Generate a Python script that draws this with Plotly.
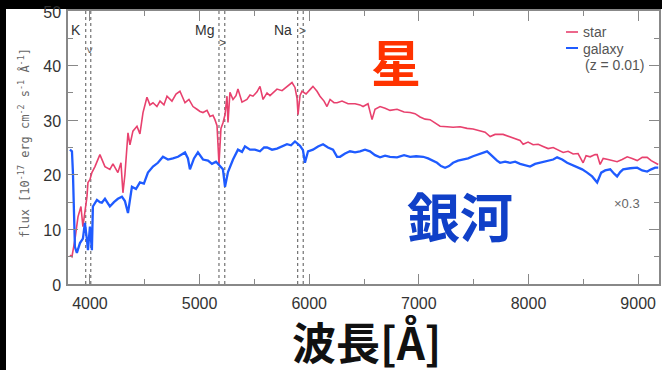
import plotly.graph_objects as go

# ---------------- data ----------------
star_wl = [3818, 3836, 3863, 3891, 3918, 3936, 3973, 3982, 4000, 4018, 4046, 4091, 4137, 4182, 4210,
           4255, 4283, 4301, 4319, 4338, 4347, 4365, 4392, 4429, 4456, 4484, 4520, 4547, 4575, 4611,
           4639, 4675, 4703, 4748, 4785, 4821, 4849, 4867, 4903, 4940, 4976, 5004, 5031, 5068, 5095,
           5122, 5140, 5159, 5177, 5195, 5213, 5232, 5250, 5259, 5277, 5305, 5332, 5350, 5387, 5432,
           5460, 5487, 5524, 5551, 5579, 5615, 5642, 5679, 5706, 5752, 5797, 5843, 5870, 5889, 5898,
           5916, 5934, 5971, 6007, 6034, 6071, 6098, 6135, 6162, 6190, 6226, 6254, 6299, 6354, 6418,
           6463, 6491, 6536, 6573, 6600, 6646, 6692, 6737, 6801, 6865, 6920, 6965, 7011, 7057, 7102,
           7148, 7193, 7257, 7312, 7376, 7440, 7494, 7558, 7604, 7650, 7695, 7768, 7832, 7896, 7923,
           7951, 7996, 8042, 8088, 8133, 8179, 8225, 8261, 8316, 8361, 8407, 8452, 8498, 8525, 8562,
           8607, 8626, 8653, 8681, 8726, 8772, 8808, 8854, 8900, 8945, 8991, 9037, 9082, 9119, 9155,
           9183]
star_flux = [5.3, 5.0, 8.1, 12.3, 14.2, 10.5, 16.0, 18.6, 19.1, 20.4, 21.5, 23.7, 21.5, 21.0, 22.0,
             20.4, 22.2, 16.7, 20.0, 26.5, 27.7, 25.5, 28.0, 28.9, 27.5, 31.4, 34.2, 32.8, 33.2, 32.5,
             33.5, 32.8, 34.4, 33.5, 34.8, 35.3, 34.0, 33.2, 33.8, 32.5, 32.0, 31.6, 31.4, 31.8, 30.7,
             30.9, 30.1, 29.0, 22.0, 28.5, 29.5, 31.0, 34.4, 29.6, 35.1, 33.8, 34.5, 35.7, 33.3, 33.8,
             34.6, 34.4, 35.2, 36.2, 33.8, 35.0, 34.5, 35.3, 35.7, 35.4, 36.2, 36.9, 36.0, 34.0, 31.0,
             34.5, 35.3, 34.8, 35.6, 36.2, 35.3, 34.4, 33.5, 32.5, 33.8, 33.2, 33.2, 33.5, 33.0, 33.0,
             32.8, 32.5, 33.0, 30.1, 32.0, 32.5, 32.2, 31.8, 32.0, 31.5, 31.4, 31.2, 30.6, 30.2, 30.1,
             29.5, 28.9, 28.8, 28.7, 28.8, 28.5, 28.4, 28.0, 27.8, 27.0, 27.4, 27.4, 27.0, 26.5, 26.3,
             25.6, 26.0, 25.5, 25.6, 25.2, 24.8, 25.0, 24.6, 24.1, 24.3, 23.8, 23.9, 22.2, 23.5, 23.3,
             23.7, 23.7, 21.9, 23.0, 22.8, 22.5, 22.4, 22.8, 23.3, 23.0, 22.6, 23.2, 23.2, 22.6, 22.2,
             21.9]

galaxy_wl = [3818, 3836, 3845, 3863, 3881, 3909, 3936, 3954, 3973, 3982, 4000, 4018, 4027, 4064, 4091,
             4109, 4137, 4164, 4182, 4219, 4255, 4292, 4319, 4347, 4383, 4420, 4456, 4492, 4529, 4575,
             4620, 4666, 4712, 4757, 4803, 4867, 4894, 4912, 4949, 4985, 5031, 5077, 5113, 5150, 5186,
             5213, 5232, 5259, 5305, 5350, 5387, 5414, 5460, 5505, 5551, 5588, 5615, 5661, 5706, 5752,
             5797, 5834, 5870, 5916, 5943, 5961, 5989, 6034, 6080, 6126, 6171, 6217, 6254, 6281, 6327,
             6372, 6418, 6463, 6509, 6554, 6600, 6646, 6692, 6737, 6801, 6865, 6920, 6975, 7039, 7084,
             7130, 7166, 7202, 7239, 7275, 7312, 7357, 7403, 7449, 7494, 7531, 7576, 7622, 7650, 7677,
             7713, 7741, 7786, 7832, 7878, 7923, 7969, 8014, 8060, 8105, 8133, 8179, 8225, 8261, 8307,
             8352, 8398, 8444, 8489, 8535, 8580, 8626, 8663, 8699, 8745, 8781, 8808, 8836, 8863, 8927,
             8991, 9037, 9082, 9119, 9155, 9183]
galaxy_flux = [24.6, 24.3, 20.4, 6.8, 5.7, 7.5, 8.3, 11.2, 8.1, 6.2, 10.5, 6.2, 14.2, 15.4, 15.0,
               14.9, 15.6, 14.6, 14.2, 15.0, 15.6, 16.0, 15.2, 13.0, 17.8, 17.4, 18.6, 18.4, 20.4, 21.5,
               22.2, 23.3, 22.8, 23.0, 23.3, 24.1, 23.0, 21.0, 23.0, 24.1, 22.8, 22.6, 22.0, 22.4, 21.5,
               21.0, 17.8, 20.5, 22.8, 24.6, 24.2, 25.2, 24.6, 24.6, 24.3, 25.0, 25.0, 24.6, 24.8, 25.2,
               25.6, 25.4, 26.1, 25.3, 24.5, 22.2, 24.3, 24.6, 25.2, 25.6, 25.0, 24.6, 23.3, 23.3, 23.9,
               24.3, 24.1, 24.3, 24.6, 24.3, 23.6, 23.2, 23.5, 23.3, 23.2, 23.6, 23.3, 23.4, 23.3, 23.0,
               22.6, 22.2, 21.6, 21.3, 21.6, 22.2, 22.6, 22.8, 23.0, 23.4, 23.7, 24.0, 24.3, 23.8, 23.2,
               22.6, 22.2, 22.4, 22.2, 22.4, 22.0, 21.8, 21.5, 22.0, 22.2, 22.4, 22.6, 22.8, 23.2, 22.8,
               22.2, 21.8, 21.5, 21.0, 20.4, 19.7, 18.6, 20.4, 20.8, 21.0, 20.2, 19.7, 20.5, 21.0, 21.2,
               21.3, 20.8, 20.6, 21.0, 21.3, 21.3]

line_positions = [3962, 4008, 5177, 5230, 5895, 5945]
line_names = ["K", "Mg", "Na"]
line_label_wl = [3870, 5049, 5761]
line_label_flux = [46.5, 46.5, 46.5]

x_tickvals = [4000, 5000, 6000, 7000, 8000, 9000]
y_tickvals = [0, 10, 20, 30, 40, 50]

STAR_C = "#E8416E"
GAL_C = "#1F5BFF"

# The page has a black frame: 6 px on the left, 9 px on top (body background).
OFF_X, OFF_Y = 6, 9
FIG_W, FIG_H = 662 - OFF_X, 370 - OFF_Y
# plot area in page pixels
L, T, W, H = 68, 11, 591, 273
def px(x):
    return (x - L) / W
def py(y):
    return 1 - (y - T) / H

fig = go.Figure()

fig.add_trace(go.Scatter(x=star_wl, y=star_flux, mode="lines", name="star",
                         line=dict(color=STAR_C, width=1.6), showlegend=False))
fig.add_trace(go.Scatter(x=galaxy_wl, y=galaxy_flux, mode="lines", name="galaxy",
                         line=dict(color=GAL_C, width=2.3), showlegend=False))

shapes = []
for lp in line_positions:
    shapes.append(dict(type="line", xref="x", yref="y", x0=lp, x1=lp, y0=0, y1=50,
                       line=dict(color="#555555", width=1, dash="dot"), layer="below"))
# legend samples
shapes.append(dict(type="line", xref="paper", yref="paper", x0=px(566), x1=px(578),
                   y0=py(32), y1=py(32), line=dict(color=STAR_C, width=1.6)))
shapes.append(dict(type="line", xref="paper", yref="paper", x0=px(566), x1=px(578),
                   y0=py(48), y1=py(48), line=dict(color=GAL_C, width=2)))

annotations = []
def note(x, y, text, size, color, family="Liberation Sans", xanchor="center", angle=0, xref="paper", yref="paper"):
    annotations.append(dict(x=x, y=y, xref=xref, yref=yref, text=text, showarrow=False,
                            xanchor=xanchor, yanchor="middle", textangle=angle,
                            font=dict(family=family, size=size, color=color)))

for name, wl, fl in zip(line_names, line_label_wl, line_label_flux):
    note(wl, fl, name, 14, "#333333", xref="x", yref="y")
# small direction marks
note(px(90), py(50), "&gt;", 11, "#555555", angle=90)
note(px(222), py(43), "&gt;", 12, "#555555")
note(px(302), py(31), "&gt;", 12, "#555555")
# legend texts
note(px(581), py(32), "star", 14, "#555555", xanchor="left")
note(px(581), py(49), "galaxy", 14, "#555555", xanchor="left")
note(px(583), py(65), "(z = 0.01)", 14, "#555555", xanchor="left")
note(px(627), py(203), "×0.3", 13, "#666666")
# y axis title
note(px(24), py(143), "flux [10<sup>-17</sup> erg cm<sup>-2</sup> s<sup>-1</sup> Å<sup>-1</sup>]",
     12, "#666666", family="DejaVu Sans Mono", angle=-90)
# big Japanese labels
note(px(396), py(60), "<b>星</b>", 50, "#FF3300", family="Noto Sans CJK JP")
note(px(460), py(215), "<b>銀河</b>", 53, "#1040C8", family="Noto Sans CJK JP")
note(px(366), py(341), "<b>波長[Å]</b>", 44, "#111111", family="Noto Sans CJK JP")

axis_common = dict(showline=True, linecolor="#888888", linewidth=1.5, mirror="ticks",
                   ticks="inside", tickcolor="#888888", tickwidth=1.2, ticklen=10,
                   showgrid=False, zeroline=False, ticklabeloverflow="allow", automargin=False,
                   tickfont=dict(family="Liberation Sans", size=16, color="#333333"))

fig.update_layout(
    width=FIG_W, height=FIG_H,
    margin=dict(l=L - OFF_X, r=FIG_W - (L - OFF_X) - W, t=T - OFF_Y, b=FIG_H - (T - OFF_Y) - H,
                autoexpand=False),
    paper_bgcolor="white", plot_bgcolor="white",
    xaxis=dict(range=[3800, 9190], tickvals=x_tickvals, ticklabelstandoff=4,
               minor=dict(dtick=500, ticks="inside", ticklen=5, tickcolor="#888888"),
               **axis_common),
    yaxis=dict(range=[0, 50], tickvals=y_tickvals, ticklabelshift=1, ticklabelstandoff=2,
               minor=dict(dtick=5, ticks="inside", ticklen=5, tickcolor="#888888"),
               **axis_common),
    annotations=annotations, shapes=shapes,
)

fig.write_html(
    "out.html", config={"displayModeBar": False},
    post_script=("document.body.style.margin='0px';"
                 "document.body.style.padding='%dpx 0 0 %dpx';"
                 "document.body.style.background='black';"
                 "document.body.style.overflow='hidden';"
                 "document.querySelectorAll('.main-svg').forEach(function(s){s.style.overflow='visible';});"
                 ) % (OFF_Y, OFF_X),
)
